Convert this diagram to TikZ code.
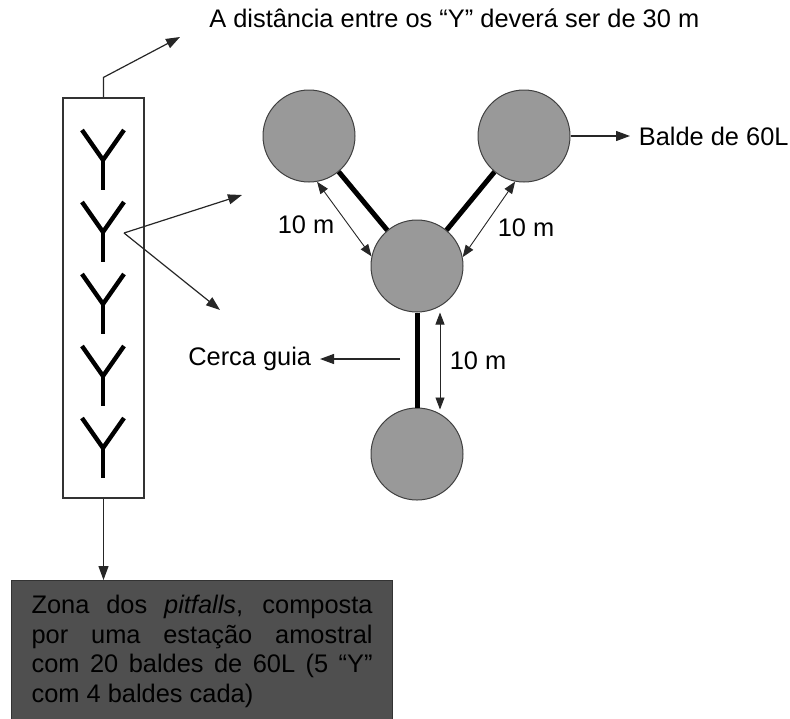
\documentclass[tikz,border=0pt]{standalone}
\usepackage{fontspec}
\setmainfont{Liberation Sans}
\usetikzlibrary{arrows.meta,calc}

\tikzset{
  bucket/.style={circle, draw=black!75, line width=0.5pt, fill=black!40,
                 minimum size=46pt, inner sep=0pt},
  thinarrow/.style={line width=0.6pt, draw=black!85, -{Triangle[length=7pt,width=5pt]}},
  dimarrow/.style={line width=0.45pt, draw=black!85,
                   {Triangle[length=6pt,width=4.5pt]}-{Triangle[length=6pt,width=4.5pt]}},
  fence/.style={line width=2.5pt},
  ystroke/.style={line width=2.2pt},
}

\begin{document}
\begin{tikzpicture}[x=0.5pt,y=-0.5pt]
\useasboundingbox (0,0) rectangle (790,718);
{\fontsize{12.7}{14.8}\selectfont

% Marking the title
\node [anchor=west] (title) at (200.5,18) {A distância entre os “Y” deverá ser de 30 m};

% Marking the box with the five Y
\node [draw=black!80, line width=0.6pt, minimum width=40.5pt, minimum height=200pt,
       inner sep=0pt] (ybox) at (103.5,298) {};
\foreach \t in {130,202,274,346,418} {
  \draw [ystroke] (82,\t) -- (103,\t+30) -- (124,\t);
  \draw [ystroke] (103,\t+30) -- (103,\t+60);
}

% Drawing line from box to title
\coordinate (titletip) at (180,37);
\draw [thinarrow] (ybox.north) -- ++(0,-20) -- (titletip);

% Marking the buckets
\node [bucket] (tl)  at (309,136) {};
\node [bucket] (tr)  at (524,136) {};
\node [bucket] (mid) at (417,266) {};
\node [bucket] (bot) at (417,454) {};

% Drawing the guide fences
\draw [fence] (tl) -- (mid);
\draw [fence] (tr) -- (mid);
\draw [fence] (mid) -- (bot);

% Drawing the distances
\draw [dimarrow] (tl.-80) -- (mid.168);
\draw [dimarrow] (tr.-101) -- (mid.11);
\draw [dimarrow] ($(mid.south)+(23,0)$) -- ($(bot.north)+(23,2)$);
\node (dleft)  at (306,225) {10 m};
\node (dright) at (526,228) {10 m};
\node (dbot)   at (478,361) {10 m};

% Drawing lines from the second Y
\coordinate (ypoint) at (124,233);
\coordinate (uptip)  at (242,195);
\coordinate (lowtip) at (220,310);
\draw [thinarrow] (ypoint) -- (uptip);
\draw [thinarrow] (ypoint) -- (lowtip);

% Marking bucket label
\node [anchor=west] (balde) at (630,136) {Balde de 60L};
\draw [thinarrow] (tr) -- (balde);

% Marking fence label
\node [anchor=east] (cerca) at (320,359) {Cerca guia};
\coordinate (fencepoint) at (400,359);
\draw [thinarrow] (fencepoint) -- (cerca);

% Marking the pitfall zone
\node [anchor=north west, fill=black!69, draw=black!80, line width=0.6pt,
       text width=170.5pt, align=justify, inner xsep=10pt, inner ysep=5pt,
       minimum height=71pt] (zone) at (11,580)
  {Zona dos \textit{pitfalls}, composta\linebreak
   por uma estação amostral\linebreak
   com 20 baldes de 60L (5 “Y”\linebreak
   com 4 baldes cada)};
\draw [thinarrow] (ybox.south) -- (ybox.south |- zone.north);
}
\end{tikzpicture}
\end{document}
